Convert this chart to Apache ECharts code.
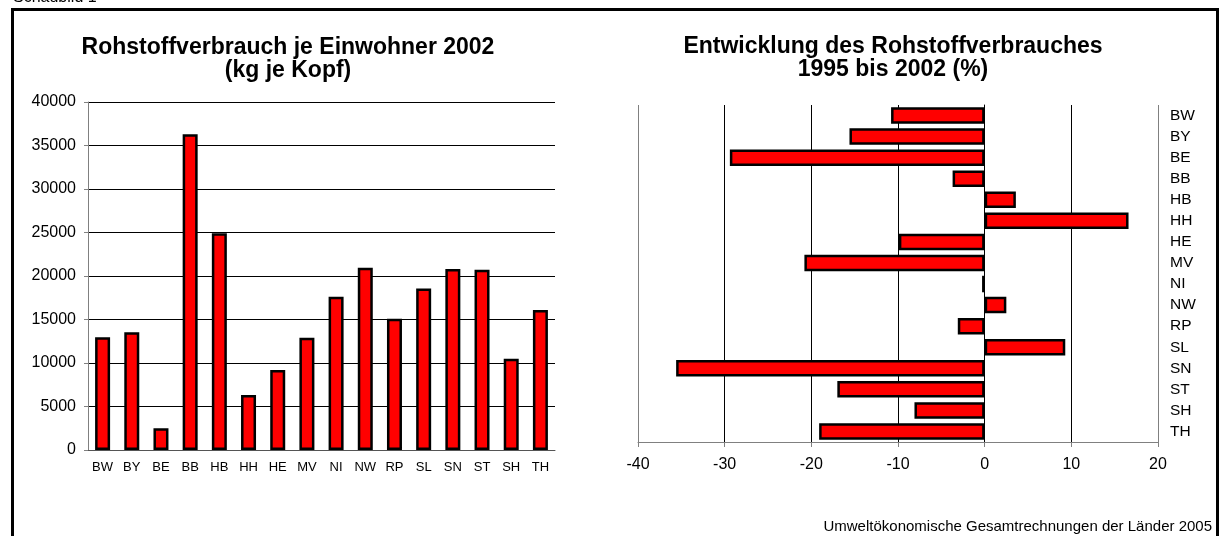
<!DOCTYPE html>
<html>
<head>
<meta charset="utf-8">
<script src="https://cdn.jsdelivr.net/npm/echarts@6/dist/echarts.min.js"></script>
<style>
  html, body { margin: 0; padding: 0; background: #fff; }
  #chart { width: 1220px; height: 536px; }
</style>
</head>
<body>
<div id="chart"></div>
<script>
// Länderkürzel
var laender = ['BW', 'BY', 'BE', 'BB', 'HB', 'HH', 'HE', 'MV', 'NI', 'NW', 'RP', 'SL', 'SN', 'ST', 'SH', 'TH'];
// Rohstoffverbrauch je Einwohner 2002 (kg je Kopf)
var verbrauch2002 = [12950, 13530, 2490, 36290, 24900, 6320, 9200, 12900, 17620, 20960, 15100, 18550, 20800, 20730, 10500, 16100];
// Entwicklung 1995 bis 2002 (%)
var entwicklung = [-10.8, -15.6, -29.4, -3.7, 3.6, 16.6, -9.9, -20.8, -0.3, 2.5, -3.1, 9.3, -35.6, -17.0, -8.1, -19.1];

var titelLinks = 'Rohstoffverbrauch je Einwohner 2002\n(kg je Kopf)';
var titelRechts = 'Entwicklung des Rohstoffverbrauches\n1995 bis 2002 (%)';
var quelle = 'Umweltökonomische Gesamtrechnungen der Länder 2005';

var schrift = '"Liberation Sans", Arial, sans-serif';
var chart = echarts.init(document.getElementById('chart'));

var option = {
    animation: false,
    backgroundColor: '#fff',
    textStyle: { fontFamily: schrift, color: '#000' },
    graphic: [
        { type: 'text', x: 13, y: -2, style: { text: 'Schaubild 1', fontFamily: schrift, fontSize: 16, fill: '#000', verticalAlign: 'middle' } },
        { type: 'rect', shape: { x: 12.5, y: 9.5, width: 1205, height: 600 }, style: { fill: 'none', stroke: '#000', lineWidth: 3 } },
        { type: 'text', x: 288, y: 36, style: { text: titelLinks, fontFamily: schrift, fontSize: 23, fontWeight: 'bold', fill: '#000', align: 'center', verticalAlign: 'top', lineHeight: 23 } },
        { type: 'text', x: 893, y: 35.5, style: { text: titelRechts, fontFamily: schrift, fontSize: 23, fontWeight: 'bold', fill: '#000', align: 'center', verticalAlign: 'top', lineHeight: 23 } },
        { type: 'text', x: 1212, y: 526.5, style: { text: quelle, fontFamily: schrift, fontSize: 15, fill: '#000', align: 'right', verticalAlign: 'middle' } }
    ],
    grid: [
        { left: 88, right: 665, top: 102, bottom: 86 },
        { left: 638, right: 62, top: 105, bottom: 94 }
    ],
    xAxis: [
        {
            gridIndex: 0,
            type: 'category',
            data: laender,
            axisLine: { lineStyle: { color: '#555', width: 1 } },
            axisTick: { length: 4, lineStyle: { color: '#555' } },
            axisLabel: { fontSize: 13, color: '#000', margin: 11, interval: 0 }
        },
        {
            gridIndex: 1,
            type: 'value',
            min: -40,
            max: 20,
            interval: 10,
            axisLine: { show: true, lineStyle: { color: '#808080' } },
            axisTick: { show: true, length: 5, lineStyle: { color: '#808080' } },
            axisLabel: { fontSize: 16, color: '#000', margin: 15 },
            splitLine: { show: true, lineStyle: { color: ['#808080', '#000', '#000', '#000', '#000', '#000', '#808080'], width: 1 } }
        }
    ],
    yAxis: [
        {
            gridIndex: 0,
            type: 'value',
            min: 0,
            max: 40000,
            interval: 5000,
            axisLine: { show: true, lineStyle: { color: '#808080' } },
            axisTick: { show: true, length: 4, lineStyle: { color: '#808080' } },
            axisLabel: { fontSize: 16, color: '#000', margin: 12, formatter: function (v) { return String(v); } },
            splitLine: { lineStyle: { color: '#000', width: 1 } }
        },
        {
            gridIndex: 1,
            type: 'category',
            data: laender,
            inverse: true,
            axisLine: { onZero: true, lineStyle: { color: '#000' } },
            axisTick: { length: 4, lineStyle: { color: '#000' } },
            axisLabel: { show: false }
        },
        {
            gridIndex: 1,
            type: 'category',
            data: laender,
            inverse: true,
            position: 'right',
            axisLine: { show: false },
            axisTick: { show: false },
            axisLabel: { fontSize: 15.5, color: '#000', margin: 12, align: 'left', interval: 0 }
        }
    ],
    series: [
        {
            name: 'Rohstoffverbrauch 2002',
            type: 'bar',
            xAxisIndex: 0,
            yAxisIndex: 0,
            data: verbrauch2002,
            barWidth: 15,
            itemStyle: { color: '#ff0000', borderColor: '#000', borderWidth: 2.5 }
        },
        {
            name: 'Entwicklung 1995-2002',
            type: 'bar',
            xAxisIndex: 1,
            yAxisIndex: 1,
            data: entwicklung,
            barWidth: 16.5,
            itemStyle: { color: '#ff0000', borderColor: '#000', borderWidth: 2.5 }
        }
    ]
};

chart.setOption(option);
</script>
</body>
</html>
